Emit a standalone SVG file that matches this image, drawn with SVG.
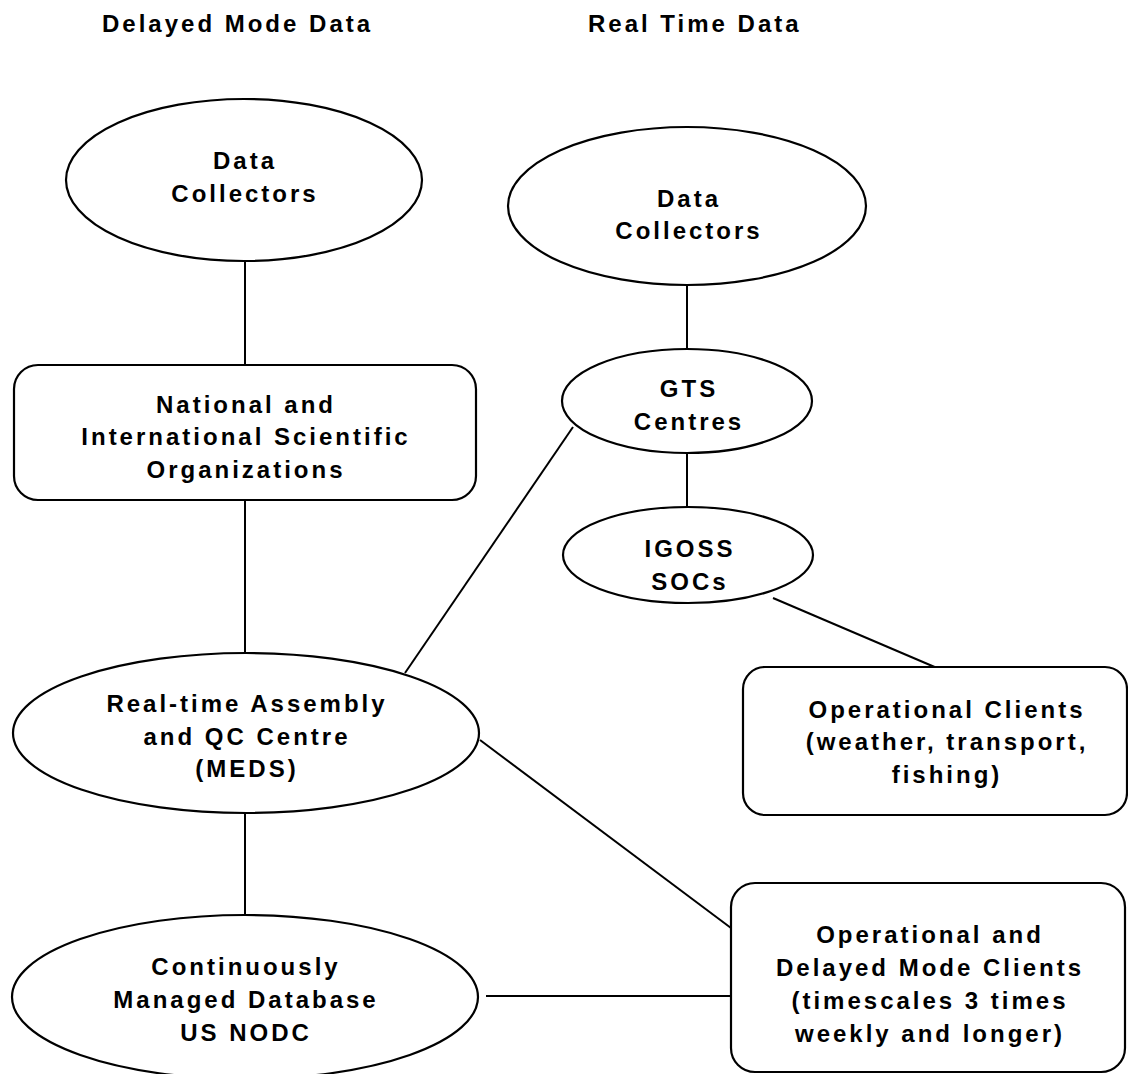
<svg xmlns="http://www.w3.org/2000/svg" width="1128" height="1074" viewBox="0 0 1128 1074">
<style>
.s{fill:#fff;stroke:#000;stroke-width:2.2}
.c line{stroke:#000;stroke-width:2}
text{font-family:"Liberation Sans",Arial,sans-serif;font-weight:bold;font-size:24px;letter-spacing:3px;fill:#000}
.m{text-anchor:middle}
</style>
<rect width="1128" height="1074" fill="#fff"/>
<g id="headers">
<text x="102" y="32">Delayed Mode Data</text>
<text x="588" y="32">Real Time Data</text>
</g>
<g class="c" id="connectors">
<line x1="245" y1="260" x2="245" y2="365"/>
<line x1="245" y1="500" x2="245" y2="653"/>
<line x1="245" y1="813" x2="245" y2="915"/>
<line x1="687" y1="285" x2="687" y2="349"/>
<line x1="687" y1="453" x2="687" y2="507"/>
<line x1="573" y1="427" x2="405" y2="673"/>
<line x1="773" y1="598" x2="937" y2="668"/>
<line x1="480" y1="740" x2="731" y2="928"/>
<line x1="486" y1="996" x2="731" y2="996"/>
</g>
<g id="dc-left">
<ellipse class="s" cx="244" cy="180" rx="178" ry="81"/>
<text class="m" x="245" y="169">Data</text>
<text class="m" x="245" y="202">Collectors</text>
</g>
<g id="national">
<rect class="s" x="14" y="365" width="462" height="135" rx="24"/>
<text class="m" x="246" y="413">National and</text>
<text class="m" x="246" y="445">International Scientific</text>
<text class="m" x="246" y="478">Organizations</text>
</g>
<g id="realtime">
<ellipse class="s" cx="246" cy="733" rx="233" ry="80"/>
<text class="m" x="247" y="712">Real-time Assembly</text>
<text class="m" x="247" y="745">and QC Centre</text>
<text class="m" x="247" y="777">(MEDS)</text>
</g>
<g id="database">
<ellipse class="s" cx="245" cy="997" rx="233" ry="82"/>
<text class="m" x="246" y="975">Continuously</text>
<text class="m" x="246" y="1008">Managed Database</text>
<text class="m" x="246" y="1041">US NODC</text>
</g>
<g id="dc-right">
<ellipse class="s" cx="687" cy="206" rx="179" ry="79"/>
<text class="m" x="689" y="207">Data</text>
<text class="m" x="689" y="239">Collectors</text>
</g>
<g id="gts">
<ellipse class="s" cx="687" cy="401" rx="125" ry="52"/>
<text class="m" x="689" y="397">GTS</text>
<text class="m" x="689" y="430">Centres</text>
</g>
<g id="igoss">
<ellipse class="s" cx="688" cy="555" rx="125" ry="48"/>
<text class="m" x="690" y="557">IGOSS</text>
<text class="m" x="690" y="590">SOCs</text>
</g>
<g id="op-clients">
<rect class="s" x="743" y="667" width="384" height="148" rx="22"/>
<text class="m" x="947" y="718">Operational Clients</text>
<text class="m" x="947" y="750">(weather, transport,</text>
<text class="m" x="947" y="783">fishing)</text>
</g>
<g id="op-delayed">
<rect class="s" x="731" y="883" width="394" height="189" rx="24"/>
<text class="m" x="930" y="943">Operational and</text>
<text class="m" x="930" y="976">Delayed Mode Clients</text>
<text class="m" x="930" y="1009">(timescales 3 times</text>
<text class="m" x="930" y="1042">weekly and longer)</text>
</g>
</svg>
